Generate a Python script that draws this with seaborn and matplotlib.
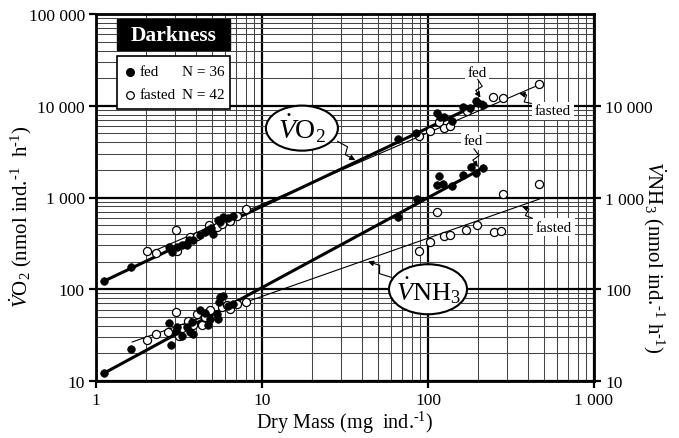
import numpy as np
import pandas as pd
import matplotlib
matplotlib.use("Agg")
import matplotlib.pyplot as plt
import seaborn as sns
from matplotlib.patches import Rectangle, Ellipse, FancyArrowPatch
from matplotlib.path import Path
from matplotlib.transforms import IdentityTransform
from matplotlib.ticker import FixedLocator, FixedFormatter, LogLocator, NullFormatter
from matplotlib.lines import Line2D

# ---------------- data ----------------
o2_fed_mass = [1.12, 1.62, 2.75, 2.86, 3.06, 3.3, 3.52, 3.63, 3.86, 4.23, 4.54, 4.75, 4.9,
               5.09, 5.45, 5.6, 5.85, 6.2, 6.71,
               66, 85, 114, 118, 125, 139, 163, 179, 194, 199, 215]
o2_fed_rate = [124, 173, 287, 257, 287, 300, 306, 340, 347, 393, 418, 442, 470,
               400, 569, 540, 608, 600, 632,
               4340, 5050, 8280, 7600, 7600, 6870, 9620, 9370, 11350, 10710, 10260]

o2_fasted_mass = [2.04, 2.29, 3.03, 3.09, 3.68, 4.04, 4.81, 5.33, 5.72, 6.41, 7.04, 7.97,
                  88.6, 103, 116, 125, 136, 171, 247, 284, 466]
o2_fasted_rate = [259, 246, 445, 263, 368, 383, 505, 473, 514, 559, 632, 750,
                  4645, 5263, 6600, 5680, 6060, 8830, 12370, 12140, 17140]

nh3_fed_mass = [1.12, 1.62, 2.75, 2.83, 3.03, 3.09, 3.28, 3.55, 3.68, 3.86, 3.77, 4.23,
                4.54, 4.75, 4.87, 5.33, 5.45, 5.53, 5.6, 5.85, 6.2, 6.71,
                66, 85.5, 116, 113, 123, 140, 163, 181, 194, 215]
nh3_fed_rate = [12.1, 22.3, 42.5, 24.7, 35.4, 38.5, 31.2, 38.5, 33.9, 32.5, 43.6, 59.8,
                55.1, 40.7, 47.4, 53.7, 47.4, 73.3, 81.6, 84.6, 66.3, 69.0,
                618, 963, 1702, 1368, 1413, 1344, 1773, 2167, 1849, 2080]

nh3_fasted_mass = [2.04, 2.29, 2.72, 3.03, 3.17, 3.28, 3.6, 3.86, 4.04, 4.33, 4.54, 4.87,
                   5.72, 6.13, 6.41, 7.04, 7.97,
                   88.6, 103, 113, 125, 136, 169, 197, 250, 274, 284, 466]
nh3_fasted_rate = [28.2, 32.5, 34.5, 56.9, 31.2, 37.5, 45.4, 40.7, 53.7, 40.7, 49.5, 59.8,
                   63.6, 67.3, 61.0, 69.0, 72.0,
                   259, 325, 700, 378, 390, 445, 505, 418, 436, 1091, 1403]

# regression lines (end points)
o2_fed_fit_mass = [1.12, 214]
o2_fed_fit_rate = [123, 11000]
o2_fasted_fit_mass = [2.0, 470]
o2_fasted_fit_rate = [240, 17000]
nh3_fed_fit_mass = [1.12, 214]
nh3_fed_fit_rate = [12.2, 2096]
nh3_fasted_fit_mass = [1.65, 470]
nh3_fasted_fit_rate = [26.6, 963]

x_ticks = [1, 10, 100, 1000]
x_tick_labels = ["1", "10", "100", "1 000"]
y_ticks = [10, 100, 1000, 10000, 100000]
y_tick_labels = ["10", "100", "1 000", "10 000", "100 000"]
y2_ticks = [10, 100, 1000, 10000]
y2_tick_labels = ["10", "100", "1 000", "10 000"]

n_fed = 36
n_fasted = 42

# ---------------- tables ----------------
def frame(m, r, state, gas):
    return pd.DataFrame({"mass": m, "rate": r, "state": state, "gas": gas})

points = pd.concat([
    frame(o2_fed_mass, o2_fed_rate, "fed", "O2"),
    frame(o2_fasted_mass, o2_fasted_rate, "fasted", "O2"),
    frame(nh3_fed_mass, nh3_fed_rate, "fed", "NH3"),
    frame(nh3_fasted_mass, nh3_fasted_rate, "fasted", "NH3"),
], ignore_index=True)

# ---------------- style ----------------
sns.set_theme(style="white", rc={
    "axes.edgecolor": "black", "text.color": "black", "axes.labelcolor": "black",
    "xtick.color": "black", "ytick.color": "black"})
plt.rcParams["font.family"] = ["Liberation Serif", "DejaVu Serif"]
plt.rcParams["mathtext.fontset"] = "custom"
plt.rcParams["mathtext.rm"] = "Liberation Serif"
plt.rcParams["mathtext.it"] = "Liberation Serif:italic"
plt.rcParams["mathtext.bf"] = "Liberation Serif:bold"

W, H = 679, 439
fig = plt.figure(figsize=(W / 100, H / 100), dpi=100)
ax = fig.add_axes([96 / W, 1 - 382 / H, 498 / W, 367 / H])

ax.set_xscale("log")
ax.set_yscale("log")
ax.set_xlim(1, 1000)
ax.set_ylim(10, 100000)

# fit lines
for fm, fr, lw in [(o2_fed_fit_mass, o2_fed_fit_rate, 2.2),
                   (nh3_fed_fit_mass, nh3_fed_fit_rate, 2.2),
                   (o2_fasted_fit_mass, o2_fasted_fit_rate, 0.8),
                   (nh3_fasted_fit_mass, nh3_fasted_fit_rate, 0.8)]:
    sns.lineplot(x=fm, y=fr, ax=ax, color="black", lw=lw, estimator=None,
                 sort=False, zorder=3)

# points
sns.scatterplot(data=points[points.state == "fasted"], x="mass", y="rate", ax=ax,
                color="white", edgecolor="black", linewidth=0.9, s=34, zorder=4,
                legend=False)
sns.scatterplot(data=points[points.state == "fed"], x="mass", y="rate", ax=ax,
                color="black", edgecolor="black", linewidth=0.5, s=30, zorder=5,
                legend=False)

# grid & ticks
ax.xaxis.set_major_locator(FixedLocator(x_ticks))
ax.xaxis.set_major_formatter(FixedFormatter(x_tick_labels))
ax.yaxis.set_major_locator(FixedLocator(y_ticks))
ax.yaxis.set_major_formatter(FixedFormatter(y_tick_labels))
ax.xaxis.set_minor_locator(LogLocator(base=10, subs=np.arange(2, 10), numticks=20))
ax.yaxis.set_minor_locator(LogLocator(base=10, subs=np.arange(2, 10), numticks=20))
ax.xaxis.set_minor_formatter(NullFormatter())
ax.yaxis.set_minor_formatter(NullFormatter())
ax.set_axisbelow(True)
ax.grid(True, which="major", color="black", lw=1.6)
ax.grid(True, which="minor", color="#444444", lw=0.75)
ax.tick_params(which="major", direction="out", length=5, width=1.6, labelsize=12.5,
               left=True, bottom=True, right=False, top=False, pad=3)
ax.tick_params(which="minor", length=0)
for sp in ax.spines.values():
    sp.set_linewidth(2)
    sp.set_color("black")

SUP = "$^{\u20101}$"   # small hyphen-one superscript, as in the original
ax.set_xlabel("Dry Mass (mg  ind." + SUP + ")", fontsize=14.5)
ax.xaxis.set_label_coords(0.5, -0.075)
ax.set_ylabel(r"$\dot{V}\mathrm{O}_{2}$" + " (nmol ind." + SUP + "  h" + SUP + ")",
              fontsize=15)
ax.yaxis.set_label_coords(-0.125, 0.45)

ax2 = ax.twinx()
ax2.set_yscale("log")
ax2.set_ylim(10, 100000)
ax2.yaxis.set_major_locator(FixedLocator(y2_ticks))
ax2.yaxis.set_major_formatter(FixedFormatter(y2_tick_labels))
ax2.yaxis.set_minor_locator(FixedLocator([]))
ax2.tick_params(which="major", direction="out", length=5, width=1.6, labelsize=12.5,
                right=True, pad=3)
ax2.grid(False)
for sp in ax2.spines.values():
    sp.set_visible(False)
ax2.set_ylabel(r"$\dot{V}\mathrm{NH}_{3}$" + " (nmol ind." + SUP + " h" + SUP + ")",
               fontsize=15, rotation=270, va="bottom")
ax2.yaxis.set_label_coords(1.095, 0.34)

# ---------------- annotations ----------------
def to_disp(xy):
    return ax.transData.transform(xy)

def zigzag(start, end, amp=3.5, head=True):
    p0 = to_disp(start)
    p1 = to_disp(end)
    d = p1 - p0
    L = np.hypot(*d)
    u = d / L
    n = np.array([-u[1], u[0]])
    a = p0 + 0.42 * d + amp * n
    b = p0 + 0.58 * d - amp * n
    path = Path([p0, a, b, p1], [Path.MOVETO, Path.LINETO, Path.LINETO, Path.LINETO])
    arr = FancyArrowPatch(path=path, arrowstyle="-|>" if head else "-",
                          mutation_scale=8, lw=0.8, color="black",
                          transform=IdentityTransform(), zorder=7)
    ax.add_patch(arr)

def ellipse_label(center, text, w, h, fs):
    c = to_disp(center)
    e = Ellipse(c, w, h, transform=IdentityTransform(), fc="white", ec="black",
                lw=1.5, zorder=8)
    ax.add_patch(e)
    ax.text(*center, text, fontsize=fs, ha="center", va="center", zorder=9)

ellipse_label((17.4, 5700), r"$\dot{V}\mathrm{O}_{2}$", 72, 45, 20)
zigzag((28.5, 4100), (36.5, 2550))
ellipse_label((100, 100), r"$\dot{V}\mathrm{NH}_{3}$", 78, 50, 19)
zigzag((60, 135), (43.5, 200))

label_box = dict(fc="white", ec="none", pad=2.0)
ax.text(197, 23300, "fed", fontsize=11, ha="center", va="center", bbox=label_box, zorder=6)
zigzag((199, 19500), (207, 12300))
ax.text(566, 8770, "fasted", fontsize=11, ha="center", va="center", bbox=label_box, zorder=6)
zigzag((420, 10600), (355, 13600))
ax.text(187, 4130, "fed", fontsize=11, ha="center", va="center", bbox=label_box, zorder=6)
zigzag((189, 3400), (200, 2150))
ax.text(574, 476, "fasted", fontsize=11, ha="center", va="center", bbox=label_box, zorder=6)
zigzag((425, 595), (368, 800))

# title box
ax.add_patch(Rectangle((0.0422, 0.902), 0.227, 0.0845, transform=ax.transAxes,
                       fc="black", ec="black", zorder=8))
ax.text(0.1556, 0.943, "Darkness", transform=ax.transAxes, color="white",
        fontsize=15.5, fontweight="bold", ha="center", va="center", zorder=9)

# legend box
ax.add_patch(Rectangle((0.0422, 0.741), 0.227, 0.1444, transform=ax.transAxes,
                       fc="white", ec="black", lw=1.2, zorder=8))
ax.add_line(Line2D([0.0683], [0.843], transform=ax.transAxes, marker="o", ms=5.5,
                   mfc="black", mec="black", ls="none", zorder=9))
ax.add_line(Line2D([0.0683], [0.780], transform=ax.transAxes, marker="o", ms=5.5,
                   mfc="white", mec="black", mew=0.9, ls="none", zorder=9))
for yy, lab, n in [(0.843, "fed", n_fed), (0.780, "fasted", n_fasted)]:
    ax.text(0.087, yy, lab, transform=ax.transAxes, fontsize=11, ha="left",
            va="center", zorder=9)
    ax.text(0.172, yy, f"N = {n}", transform=ax.transAxes, fontsize=11, ha="left",
            va="center", zorder=9)

fig.savefig("out.png", dpi=100)
